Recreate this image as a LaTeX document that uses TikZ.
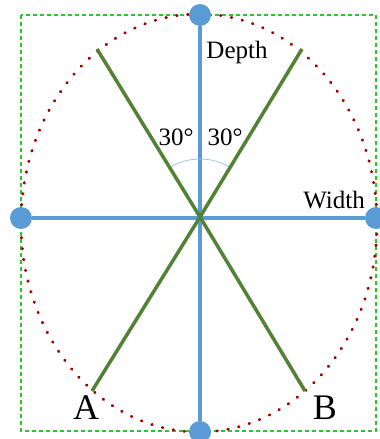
\documentclass[tikz,border=0pt]{standalone}
\usepackage{fontspec}
\setmainfont{Liberation Serif}
\usetikzlibrary{positioning}
\definecolor{axisblue}{RGB}{91,155,213}
\definecolor{legGreen}{RGB}{84,130,53}
\definecolor{rimred}{RGB}{160,0,0}
\definecolor{boxgreen}{RGB}{40,200,40}
\begin{document}
\begin{tikzpicture}[x=1pt,y=-1pt,font=\fontsize{25}{30}\selectfont,
 axis/.style={draw=axisblue,line width=3.5pt},
 leg/.style={draw=legGreen,line width=3.5pt},
 knob/.style={circle,fill=axisblue,inner sep=0pt,minimum size=22pt},
 rim/.style={draw=rimred,line width=3pt,line cap=round,dash pattern=on 0.5pt off 10.5pt},
 frame/.style={draw=boxgreen,line width=1.2pt,dash pattern=on 4pt off 3pt},
 tag/.style={inner sep=0pt,font=\fontsize{36}{40}\selectfont}]
\useasboundingbox (0,0) rectangle (380,439);
\draw[frame] (21,15) rectangle (376,431);
\draw[rim] (199,223) ellipse [x radius=178,y radius=209];
% axes
\coordinate (O) at (200,217);
\node[knob] (top) at (200,15) {};
\node[knob] (bot) at (200,432) {};
\node[knob] (lft) at (21,218) {};
\node[knob] (rgt) at (376,218) {};
\draw[axis] (top) -- (bot);
\draw[axis] (lft) -- (rgt);
\draw[draw=axisblue!60,line width=0.8pt] (O) ++(-60:58) arc[start angle=-60,end angle=-120,radius=58];
% legs
\coordinate (ul) at (97,49);
\coordinate (ur) at (302,49);
\coordinate (ll) at (92,391);
\coordinate (lr) at (305,391);
\draw[leg] (ul) -- (O) -- (lr);
\draw[leg] (ur) -- (O) -- (ll);
\node[inner sep=0pt] (depth) at (237,52) {Depth};
\node[inner sep=0pt] (width) at (334,200) {Width};
\node[inner sep=0pt] (al) at (176,137) {30°};
\node[inner sep=0pt] (ar) at (225,137) {30°};
\node[tag] (A) at (86,408) {A};
\node[tag] (B) at (325,408) {B};
\end{tikzpicture}
\end{document}
